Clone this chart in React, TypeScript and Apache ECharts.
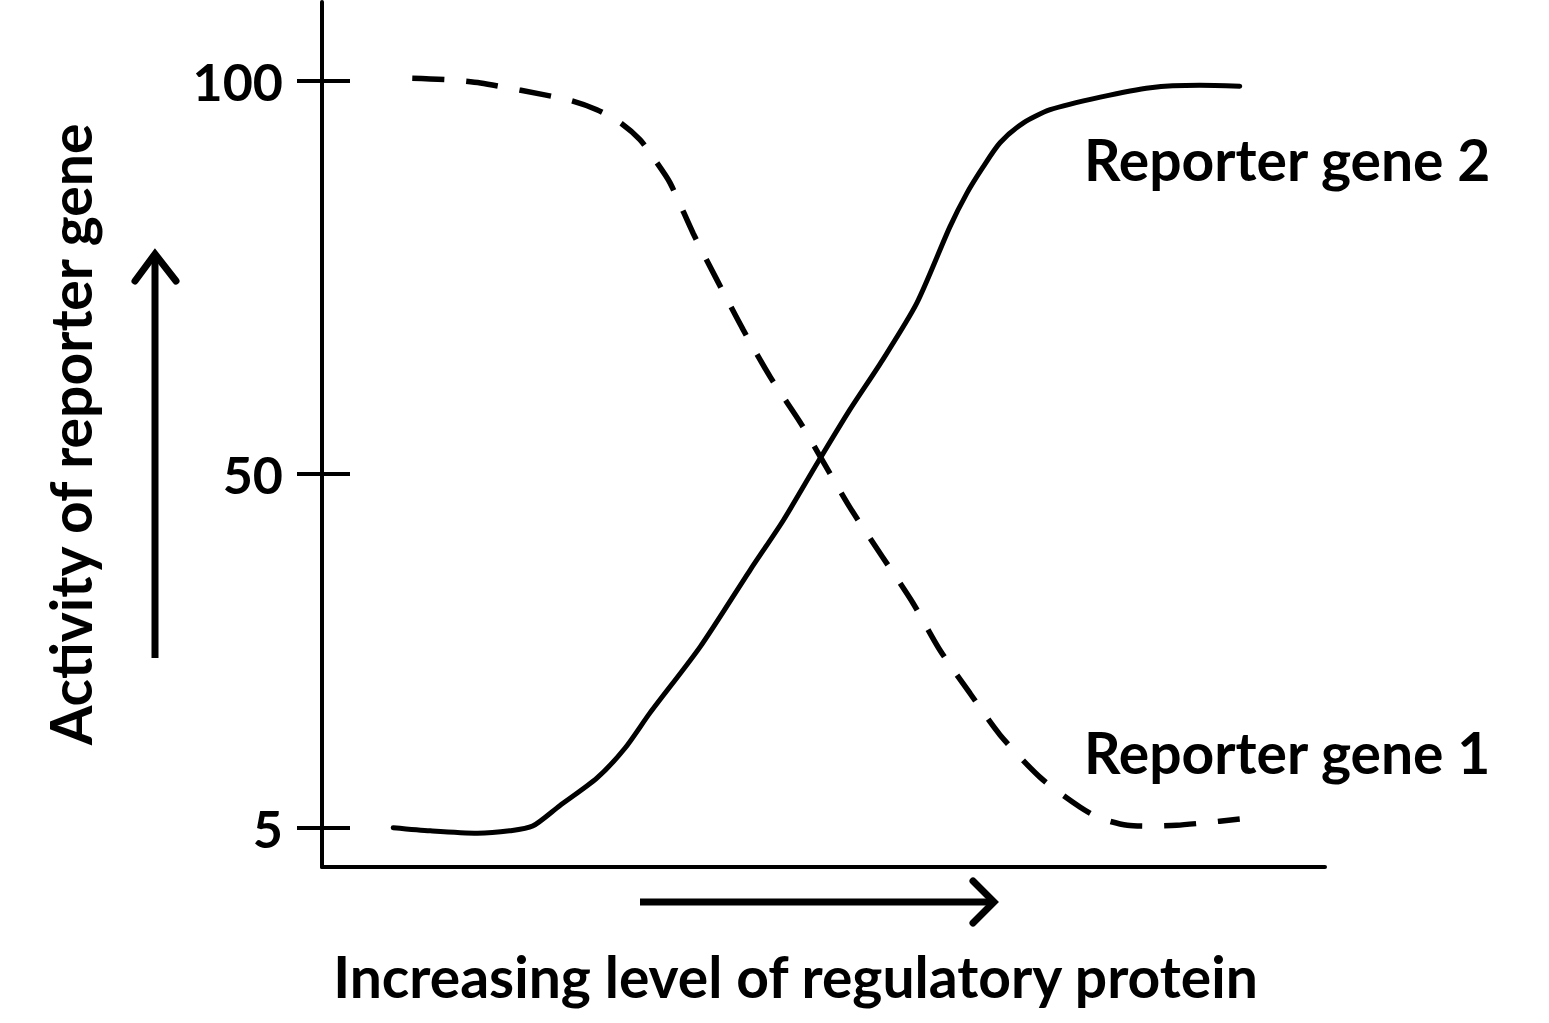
import React, { useEffect, useRef } from "react";
import * as echarts from "echarts";

// x: increasing level of regulatory protein (arbitrary units 0-100)
// y: activity of reporter gene
const gene2X = [7.1, 10.8, 15.5, 18.7, 21.0, 23.7, 27.4, 30.2, 32.7, 37.7, 42.7, 46.0, 49.4, 52.6, 55.9, 59.3, 62.6, 64.3, 65.9, 67.6, 69.9, 72.6, 77.6, 82.6, 87.5, 91.5];
const gene2Y = [5.0, 4.6, 4.3, 4.6, 5.2, 7.8, 11.3, 15.1, 19.6, 28.0, 37.8, 44.1, 51.4, 58.1, 64.5, 71.7, 81.4, 85.7, 89.0, 92.1, 94.6, 96.3, 97.9, 99.1, 99.4, 99.3];

const gene1X = [9.0, 12.8, 15.8, 19.7, 24.7, 27.4, 29.7, 31.7, 33.2, 34.7, 37.0, 39.4, 42.0, 44.7, 47.7, 49.4, 52.6, 55.9, 58.9, 61.6, 64.6, 67.6, 71.6, 75.6, 77.6, 80.3, 82.6, 85.2, 87.8, 91.5];
const gene1Y = [100.3, 100.1, 99.7, 98.8, 97.5, 96.3, 94.7, 92.5, 89.9, 87.0, 80.6, 74.6, 68.3, 62.3, 56.5, 52.8, 45.8, 39.4, 33.6, 27.6, 22.1, 16.8, 11.4, 7.6, 6.2, 5.3, 5.2, 5.3, 5.6, 6.1];

const yTicks = [5, 50, 100];
const seriesNames = ["Reporter gene 2", "Reporter gene 1"];
const xTitle = "Increasing level of regulatory protein";
const yTitle = "Activity of reporter gene";

const FONT = "Lato, 'Open Sans', sans-serif";

export default function App() {
  const ref = useRef<HTMLDivElement>(null);
  useEffect(() => {
    if (!ref.current) return;
    const chart = echarts.init(ref.current, null, { renderer: "svg" });
    const pair = (xs: number[], ys: number[]) => xs.map((x, i) => [x, ys[i]]);
    chart.setOption({
      animation: false,
      backgroundColor: "#ffffff",
      grid: { left: 322, right: 224, top: 2, bottom: 156 },
      xAxis: {
        type: "value",
        min: 0,
        max: 100,
        name: xTitle,
        nameLocation: "middle",
        nameGap: 80,
        nameTextStyle: {
          fontFamily: FONT,
          fontWeight: "bold",
          fontSize: 57,
          color: "#000",
          padding: [0, 56, 0, 0],
        },
        axisLine: { show: true, lineStyle: { color: "#000", width: 4 } },
        axisTick: { show: false },
        axisLabel: { show: false },
        splitLine: { show: false },
      },
      yAxis: [
        {
          type: "value",
          min: 0,
          max: 110,
          name: yTitle,
          nameLocation: "middle",
          nameGap: 224,
          nameTextStyle: {
            fontFamily: FONT,
            fontWeight: "bold",
            fontSize: 57,
            color: "#000",
          },
          axisLine: { show: true, lineStyle: { color: "#000", width: 4 } },
          axisTick: {
            show: true,
            inside: false,
            length: 25,
            customValues: yTicks,
            lineStyle: { color: "#000", width: 4 },
          },
          axisLabel: {
            show: true,
            customValues: yTicks,
            margin: 39,
            fontFamily: FONT,
            fontWeight: "bold",
            fontSize: 52,
            color: "#000",
          },
          splitLine: { show: false },
        },
        {
          type: "value",
          min: 0,
          max: 110,
          position: "left",
          axisLine: { show: false },
          axisTick: {
            show: true,
            inside: true,
            length: 28,
            customValues: yTicks,
            lineStyle: { color: "#000", width: 4 },
          },
          axisLabel: { show: false },
          splitLine: { show: false },
        },
      ],
      series: [
        {
          name: seriesNames[0],
          type: "line",
          data: pair(gene2X, gene2Y),
          smooth: 0.25,
          showSymbol: false,
          lineStyle: { color: "#000", width: 5, type: "solid", cap: "round", join: "round" },
        },
        {
          name: seriesNames[1],
          type: "line",
          data: pair(gene1X, gene1Y),
          smooth: 0.25,
          showSymbol: false,
          lineStyle: { color: "#000", width: 5.5, type: [32, 22] },
        },
      ],
      graphic: [
        {
          type: "text",
          left: 1084,
          top: 130,
          style: { text: seriesNames[0], fontFamily: FONT, fontWeight: "bold", fontSize: 57, fill: "#000" },
        },
        {
          type: "text",
          left: 1084,
          top: 723,
          style: { text: seriesNames[1], fontFamily: FONT, fontWeight: "bold", fontSize: 57, fill: "#000" },
        },
        {
          type: "polyline",
          shape: { points: [[155, 658], [155, 254]] },
          style: { stroke: "#000", lineWidth: 7, fill: "none", lineCap: "butt" },
        },
        {
          type: "polyline",
          shape: { points: [[135, 281], [155, 254], [176, 281]] },
          style: { stroke: "#000", lineWidth: 7, fill: "none", lineCap: "round", lineJoin: "miter" },
        },
        {
          type: "polyline",
          shape: { points: [[640, 902], [992, 902]] },
          style: { stroke: "#000", lineWidth: 7, fill: "none", lineCap: "butt" },
        },
        {
          type: "polyline",
          shape: { points: [[973, 881], [994, 902], [973, 923]] },
          style: { stroke: "#000", lineWidth: 7, fill: "none", lineCap: "round", lineJoin: "miter" },
        },
      ],
    });
    return () => chart.dispose();
  }, []);
  return (
    <div
      ref={ref}
      style={{ position: "fixed", left: 0, top: 0, width: "1549px", height: "1023px", background: "#fff" }}
    />
  );
}
